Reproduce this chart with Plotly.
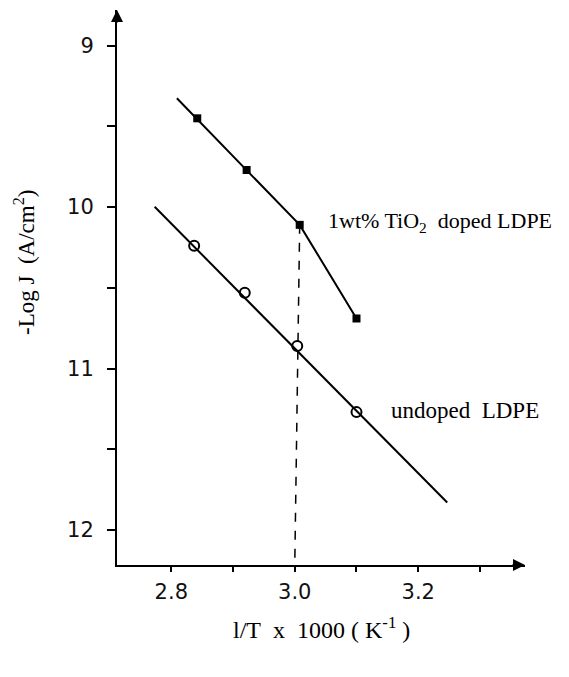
import plotly.graph_objects as go

# Data
doped_x = [2.842, 2.922, 3.008, 3.100]
doped_y = [9.45, 9.77, 10.11, 10.69]
doped_line_x = [2.809, 3.008, 3.100]
doped_line_y = [9.326, 10.11, 10.69]

undoped_x = [2.837, 2.919, 3.004, 3.100]
undoped_y = [10.24, 10.53, 10.86, 11.27]
undoped_line_x = [2.773, 3.247]
undoped_line_y = [9.998, 11.83]

dash_x = [3.008, 3.000]
dash_y = [10.11, 12.217]

x_range = [2.712, 3.373]
y_range = [12.217, 8.779]
x_ticks = [2.8, 2.9, 3.0, 3.1, 3.2, 3.3]
x_ticktext = ["2.8", "", "3.0", "", "3.2", ""]
y_ticks = [9, 9.5, 10, 10.5, 11, 11.5, 12]
y_ticktext = ["9", "", "10", "", "11", "", "12"]

fig = go.Figure()
fig.add_trace(go.Scatter(x=dash_x, y=dash_y, mode="lines",
                         line=dict(color="black", width=1.5, dash="dash"), hoverinfo="skip"))
fig.add_trace(go.Scatter(x=doped_line_x, y=doped_line_y, mode="lines",
                         line=dict(color="black", width=2)))
fig.add_trace(go.Scatter(x=undoped_line_x, y=undoped_line_y, mode="lines",
                         line=dict(color="black", width=2)))
fig.add_trace(go.Scatter(x=doped_x, y=doped_y, mode="markers",
                         marker=dict(symbol="square", size=8, color="black")))
fig.add_trace(go.Scatter(x=undoped_x, y=undoped_y, mode="markers",
                         marker=dict(symbol="circle-open", size=10, color="black",
                                     line=dict(width=2, color="black"))))

serif = "Liberation Serif"
fig.add_annotation(x=3.050, y=10.09, xref="x", yref="y", xanchor="left", yanchor="middle",
                   text="1wt% TiO<sub>2</sub>&nbsp; doped LDPE", showarrow=False,
                   font=dict(family=serif, size=22, color="black"))
fig.add_annotation(x=3.152, y=11.257, xref="x", yref="y", xanchor="left", yanchor="middle",
                   text="undoped&nbsp; LDPE", showarrow=False,
                   font=dict(family=serif, size=23, color="black"))
# axis titles
fig.add_annotation(x=-0.2255, y=0.546, xref="paper", yref="paper", textangle=-90,
                   xanchor="center", yanchor="middle",
                   text="-Log J&nbsp; (A/cm<sup>2</sup>)", showarrow=False,
                   font=dict(family=serif, size=23, color="black"))
fig.add_annotation(x=0.5, y=-0.1135, xref="paper", yref="paper",
                   xanchor="center", yanchor="middle",
                   text="l/T&nbsp; x&nbsp; 1000 ( K<sup>-1</sup> )", showarrow=False,
                   font=dict(family=serif, size=24, color="black"))
# axis arrows
fig.add_annotation(x=1.0, y=0.0, xref="paper", yref="paper", ax=-14, ay=0,
                   showarrow=True, arrowhead=2, arrowsize=1.2, arrowwidth=2, arrowcolor="black",
                   text="", standoff=0)
fig.add_annotation(x=0.0, y=1.0, xref="paper", yref="paper", ax=0, ay=14,
                   showarrow=True, arrowhead=2, arrowsize=1.2, arrowwidth=2, arrowcolor="black",
                   text="", standoff=0)

tickfont = dict(family="DejaVu Sans", size=21, color="#111")
fig.update_xaxes(range=x_range, tickvals=x_ticks, ticktext=x_ticktext, showgrid=False,
                 zeroline=False, showline=True, linecolor="black", linewidth=2,
                 ticks="outside", ticklen=5, tickwidth=2, tickcolor="black",
                 tickfont=tickfont, ticklabelstandoff=2, automargin=False)
fig.update_yaxes(range=y_range, tickvals=y_ticks, ticktext=y_ticktext, showgrid=False,
                 zeroline=False, showline=True, linecolor="black", linewidth=2,
                 ticks="outside", ticklen=8, tickwidth=2, tickcolor="black",
                 tickfont=tickfont, ticklabelstandoff=9, automargin=False)
fig.update_layout(width=553, height=661, showlegend=False,
                  plot_bgcolor="white", paper_bgcolor="white",
                  margin=dict(l=109, r=36, t=2, b=104, autoexpand=False))
fig.write_html("out.html")
